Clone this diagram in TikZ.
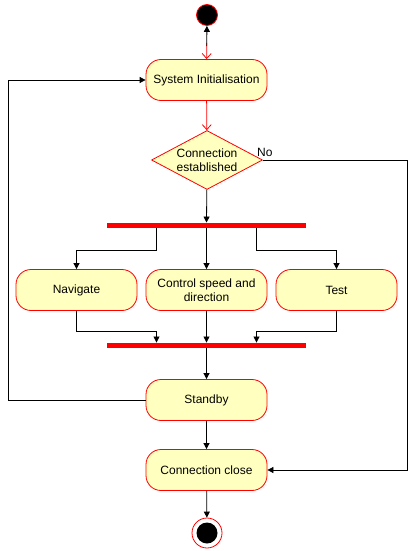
\documentclass[tikz,border=0pt]{standalone}
\usepackage{fontspec}
\setmainfont{Liberation Sans}
\usetikzlibrary{arrows.meta,shapes.geometric,calc}
\definecolor{actfill}{HTML}{FFFFC0}
\definecolor{actline}{HTML}{FF0000}
\begin{document}
\begin{tikzpicture}[x=1pt,y=-1pt,
  font=\fontsize{12}{14}\selectfont,
  act/.style={draw=actline,fill=actfill,rounded corners=15pt,minimum width=121pt,minimum height=41pt,align=center,inner sep=2pt,line width=0.8pt},
  dec/.style={diamond,draw=actline,fill=actfill,minimum width=111pt,minimum height=59pt,aspect=1.9,inner sep=0pt,align=center,line width=0.8pt},
  bar/.style={fill=actline,minimum width=199pt,minimum height=5.5pt,inner sep=0pt},
  flow/.style={line width=0.8pt,-{Triangle[length=6pt,width=6pt]}},
  redflow/.style={line width=0.8pt,draw=actline,-{Straight Barb[length=5pt,width=9pt]}}
]
\useasboundingbox (0,0) rectangle (417,551);
\node[circle,fill=black,draw=actline,line width=0.8pt,minimum size=21pt,inner sep=0pt] (start) at (207,15) {};
\node[act] (init) at (206.5,80) {System Initialisation};
\node[dec] (conn) at (207,160) {Connection\\established};
\node[bar] (fork) at (206.5,225.5) {};
\node[act] (nav) at (76.5,290) {Navigate};
\node[act] (ctrl) at (206.5,290) {Control speed and\\direction};
\node[act] (test) at (336.5,290) {Test};
\node[bar] (join) at (206.5,345.5) {};
\node[act] (stand) at (206.5,400) {Standby};
\node[act] (close) at (206.5,470) {Connection close};
\node[circle,draw=actline,fill=white,line width=0.8pt,minimum size=30pt,inner sep=0pt] (endo) at (207,533) {};
\node[circle,fill=black,minimum size=21pt,inner sep=0pt] (endi) at (endo) {};
\coordinate (nobend) at (407,160);
\coordinate (loopb) at (8,400);
\coordinate (loopt) at (8,80);
% edges
\draw[redflow,shorten <=17pt] (start) -- (init);
\draw[flow,shorten <=13pt] (init) -- (start);
\draw[redflow] (init) -- (conn);
\draw[flow] (conn) -- (fork);
\node[anchor=south west,inner sep=1pt] (nolab) at ([xshift=-7pt,yshift=2pt]conn.east) {No};
\draw[flow] (conn.east) -- (nobend) |- (close.east);
\draw[flow] ([xshift=-50pt]fork.south) -- ++(0,22) -| (nav.north);
\draw[flow] (fork) -- (ctrl);
\draw[flow] ([xshift=50pt]fork.south) -- ++(0,22) -| (test.north);
\draw[flow] (nav.south) -- ++(0,20) -| ([xshift=-50pt]join.north);
\draw[flow] (ctrl) -- (join);
\draw[flow] (test.south) -- ++(0,20) -| ([xshift=50pt]join.north);
\draw[flow] (join) -- (stand);
\draw[flow] (stand.west) -- (loopb) -- (loopt) -- (init.west);
\draw[flow] (stand) -- (close);
\draw[flow] (close) -- (endo);
\end{tikzpicture}
\end{document}
